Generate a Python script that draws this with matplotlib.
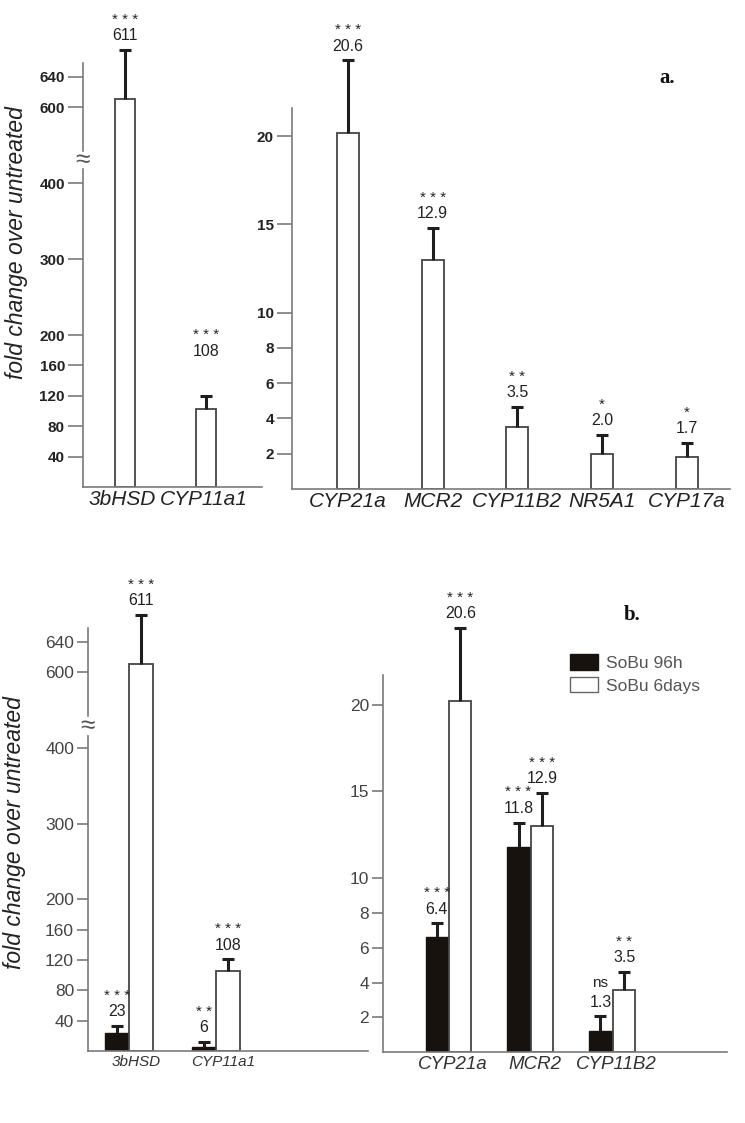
import numpy as np
import matplotlib
matplotlib.use('Agg')
import matplotlib.pyplot as plt
from matplotlib.patches import Patch

plt.rcParams['font.family'] = ['Liberation Sans', 'DejaVu Sans']

# ---------------- data ----------------
# panel a, left (broken axis)
a_left_genes = ['3bHSD', 'CYP11a1']
a_left_vals = [611, 102]
a_left_err = [64, 18]
a_left_text = ['611', '108']
a_left_sig = ['***', '***']

# panel a, right
a_right_genes = ['CYP21a', 'MCR2', 'CYP11B2', 'NR5A1', 'CYP17a']
a_right_vals = [20.2, 13.0, 3.5, 2.0, 1.8]
a_right_err = [4.1, 1.8, 1.15, 1.05, 0.8]
a_right_text = ['20.6', '12.9', '3.5', '2.0', '1.7']
a_right_sig = ['***', '***', '**', '*', '*']

# panel b, left (broken axis)
b_left_genes = ['3bHSD', 'CYP11a1']
b_left_96h = [24, 5]
b_left_96h_err = [9, 7]
b_left_96h_text = ['23', '6']
b_left_96h_sig = ['***', '**']
b_left_6d = [611, 105]
b_left_6d_err = [64, 16]
b_left_6d_text = ['611', '108']
b_left_6d_sig = ['***', '***']

# panel b, right
b_right_genes = ['CYP21a', 'MCR2', 'CYP11B2']
b_right_96h = [6.6, 11.8, 1.2]
b_right_96h_err = [0.8, 1.4, 0.85]
b_right_96h_text = ['6.4', '11.8', '1.3']
b_right_96h_sig = ['***', '***', 'ns']
b_right_6d = [20.2, 13.0, 3.56]
b_right_6d_err = [4.2, 1.9, 1.04]
b_right_6d_text = ['20.6', '12.9', '3.5']
b_right_6d_sig = ['***', '***', '**']

series_names = ['SoBu 96h', 'SoBu 6days']
left_ticks = [40, 80, 120, 160, 200, 300, 400, 600, 640]
right_ticks = [2, 4, 6, 8, 10, 15, 20]
ylabel = 'fold change over untreated'

# ---------------- styling ----------------
W, H = 745, 1123
fig = plt.figure(figsize=(W / 100, H / 100), dpi=100)

SPINE = '#7a7a7a'
EDGE = '#444444'
BLACK = '#17120e'
ERR = '#1e1e1e'


def box(x0, y0, x1, y1):
    return [x0 / W, 1 - y1 / H, (x1 - x0) / W, (y1 - y0) / H]


def fwd(v):
    v = np.asarray(v, dtype=float)
    return np.where(v <= 400, v, np.where(v < 600, 400 + (v - 400) * 0.5, v - 100))


def inv(d):
    d = np.asarray(d, dtype=float)
    return np.where(d <= 400, d, np.where(d < 500, 400 + (d - 400) * 2.0, d + 100))


def style_axes(ax, bold, tick_fs, tick_len, tick_col):
    for s in ['top', 'right']:
        ax.spines[s].set_visible(False)
    for s in ['left', 'bottom']:
        ax.spines[s].set_color(SPINE)
        ax.spines[s].set_linewidth(1.2)
    ax.tick_params(axis='y', length=tick_len, width=1.2, color=SPINE,
                   labelsize=tick_fs, labelcolor=tick_col, pad=2)
    ax.tick_params(axis='x', length=0)
    for lab in ax.get_yticklabels():
        lab.set_fontweight('bold' if bold else 'normal')


def errbars(ax, x, vals, err):
    c = ax.errorbar(x, vals, yerr=[np.zeros(len(err)), err], fmt='none',
                    ecolor=ERR, elinewidth=2.2, capsize=4.5, capthick=2.2, zorder=3)
    caps = list(c.lines[1])
    if len(caps) == 2:
        caps[0].set_visible(False)   # no cap at the bar top
    for art in caps + list(c.lines[2]):
        art.set_clip_on(False)


def sig_str(s):
    return ' '.join(s) if set(s) == {'*'} else s


def annotate(ax, x, vals, err, texts, sigs, fs, sfs, extra=None):
    for i, (xi, v, e, t, s) in enumerate(zip(x, vals, err, texts, sigs)):
        add = 0 if extra is None else extra[i]
        top = v + e
        ax.annotate(t, xy=(xi, top), xytext=(0, 7 + add), textcoords='offset points',
                    ha='center', va='baseline', fontsize=fs, color='#222222',
                    annotation_clip=False)
        star = set(s) == {'*'}
        ax.annotate(sig_str(s), xy=(xi, top),
                    xytext=(0, 7 + add + fs + (0.5 if star else 2.5)),
                    textcoords='offset points',
                    ha='center', va='baseline', fontsize=sfs if star else fs - 0.5,
                    color='#222222', annotation_clip=False)


def broken_spine(ax, ymax, g0, g1, fs):
    top = float(fwd(ymax))
    f0 = float(fwd(g0)) / top
    f1 = float(fwd(g1)) / top
    ax.spines['left'].set_visible(False)
    ax.plot([0, 0], [0, f0], transform=ax.transAxes, color=SPINE, lw=1.2, clip_on=False)
    ax.plot([0, 0], [f1, 1], transform=ax.transAxes, color=SPINE, lw=1.2, clip_on=False)
    ax.text(0, (f0 + f1) / 2, '\u2248', transform=ax.transAxes, ha='center', va='center',
            fontsize=fs, color='#555555')


# ================= panel a, left =================
ax = fig.add_axes(box(83, 63, 262, 487))
ax.set_yscale('function', functions=(fwd, inv))
x = np.arange(len(a_left_genes))
ax.bar(x, a_left_vals, width=0.25, color='white', edgecolor=EDGE, linewidth=1.3, zorder=2)
errbars(ax, x, a_left_vals, a_left_err)
ax.set_xlim(-0.52, 1.69)
ax.set_ylim(0, 658)
ax.set_yticks(left_ticks)
ax.set_yticklabels([str(t) for t in left_ticks])
ax.set_xticks(x - 0.03)
ax.set_xticklabels(a_left_genes, fontsize=15, style='italic', color='#222222')
ax.tick_params(axis='x', pad=2)
style_axes(ax, True, 11, 11, '#222222')
broken_spine(ax, 658, 436, 484, 19)
annotate(ax, x, a_left_vals, a_left_err, a_left_text, a_left_sig, 11.5, 11, extra=[0, 22])

# ================= panel a, right =================
ax = fig.add_axes(box(292, 108, 730, 489))
x = np.arange(len(a_right_genes))
ax.bar(x, a_right_vals, width=0.26, color='white', edgecolor=EDGE, linewidth=1.3, zorder=2)
errbars(ax, x, a_right_vals, a_right_err)
ax.set_xlim(-0.66, 4.51)
ax.set_ylim(0, 21.6)
ax.set_yticks(right_ticks)
ax.set_xticks(x)
ax.set_xticklabels(a_right_genes, fontsize=15, style='italic', color='#222222')
ax.tick_params(axis='x', pad=2)
style_axes(ax, True, 11, 11, '#222222')
annotate(ax, x, a_right_vals, a_right_err, a_right_text, a_right_sig, 11.5, 11)

fig.text(667 / W, 1 - 78 / H, 'a.', fontsize=15, fontweight='bold',
         family=['Liberation Serif', 'DejaVu Serif'], ha='center', va='center', color='#111111')
fig.text(17 / W, 1 - 243 / H, ylabel, rotation=90, fontsize=16.5, style='italic',
         ha='center', va='center', color='#222222')

# ================= panel b, left =================
ax = fig.add_axes(box(88, 628, 368, 1051))
ax.set_yscale('function', functions=(fwd, inv))
x = np.arange(len(b_left_genes))
off, bw = 0.14, 0.275
ax.bar(x - off, b_left_96h, width=bw, color=BLACK, edgecolor=BLACK, linewidth=1.0, zorder=2)
ax.bar(x + off, b_left_6d, width=bw, color='white', edgecolor=EDGE, linewidth=1.3, zorder=2)
errbars(ax, x - off, b_left_96h, b_left_96h_err)
errbars(ax, x + off, b_left_6d, b_left_6d_err)
ax.set_xlim(-0.47, 2.75)
ax.set_ylim(0, 658)
ax.set_yticks(left_ticks)
ax.set_yticklabels([str(t) for t in left_ticks])
ax.set_xticks(x + 0.08)
ax.set_xticklabels(b_left_genes, fontsize=11, style='italic', color='#333333')
ax.tick_params(axis='x', pad=3)
style_axes(ax, False, 12.5, 8, '#444444')
broken_spine(ax, 658, 432, 484, 19)
annotate(ax, x - off, b_left_96h, b_left_96h_err, b_left_96h_text, b_left_96h_sig, 11.5, 11)
annotate(ax, x + off, b_left_6d, b_left_6d_err, b_left_6d_text, b_left_6d_sig, 11.5, 11)

# ================= panel b, right =================
ax = fig.add_axes(box(383, 675, 727, 1052))
x = np.arange(len(b_right_genes))
off, bw = 0.145, 0.27
ax.bar(x - off, b_right_96h, width=bw, color=BLACK, edgecolor=BLACK, linewidth=1.0,
       zorder=2, label=series_names[0])
ax.bar(x + off, b_right_6d, width=bw, color='white', edgecolor=EDGE, linewidth=1.3,
       zorder=2, label=series_names[1])
errbars(ax, x - off, b_right_96h, b_right_96h_err)
errbars(ax, x + off, b_right_6d, b_right_6d_err)
ax.set_xlim(-0.80, 3.40)
ax.set_ylim(0, 21.7)
ax.set_yticks(right_ticks)
ax.set_xticks(x + 0.05)
ax.set_xticklabels(b_right_genes, fontsize=13.5, style='italic', color='#333333')
ax.tick_params(axis='x', pad=3)
style_axes(ax, False, 12.5, 8, '#444444')
annotate(ax, x - off, b_right_96h, b_right_96h_err, b_right_96h_text, b_right_96h_sig, 11.5, 11)
annotate(ax, x + off, b_right_6d, b_right_6d_err, b_right_6d_text, b_right_6d_sig, 11.5, 11)

handles = [Patch(facecolor=BLACK, edgecolor=BLACK), Patch(facecolor='white', edgecolor='#666666')]
fig.legend(handles, series_names, loc='upper left', bbox_to_anchor=(570 / W, 1 - 654 / H),
           bbox_transform=fig.transFigure, frameon=False, fontsize=12.5, borderpad=0,
           handlelength=1.6, handleheight=1.0, handletextpad=0.5, labelspacing=0.35,
           labelcolor='#555555', borderaxespad=0)

fig.text(632 / W, 1 - 615 / H, 'b.', fontsize=15, fontweight='bold',
         family=['Liberation Serif', 'DejaVu Serif'], ha='center', va='center', color='#111111')
fig.text(15 / W, 1 - 833 / H, ylabel, rotation=90, fontsize=16.5, style='italic',
         ha='center', va='center', color='#222222')

fig.savefig('out.png', dpi=100)
